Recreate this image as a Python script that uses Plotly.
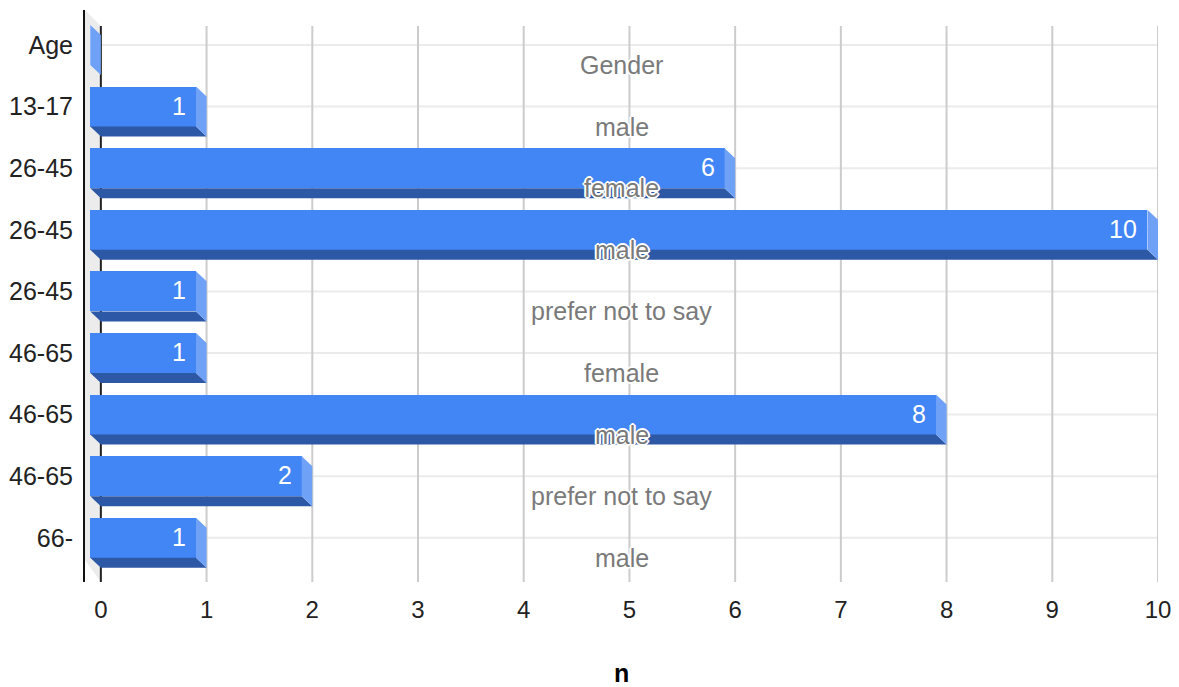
import plotly.graph_objects as go

# ---- data ----
age_labels = ["Age", "13-17", "26-45", "26-45", "26-45", "46-65", "46-65", "46-65", "66-"]
gender_labels = ["Gender", "male", "female", "male", "prefer not to say",
                 "female", "male", "prefer not to say", "male"]
counts = [0, 1, 6, 10, 1, 1, 8, 2, 1]
x_ticks = [0, 1, 2, 3, 4, 5, 6, 7, 8, 9, 10]
x_title = "n"

rows = list(range(len(age_labels)))

# ---- 3D look parameters (data units) ----
DX = 0.1      # horizontal depth
DY = 0.162    # vertical depth (rows)
HALF = 0.325  # half bar height (rows)
Y_TOP, Y_BOT = -0.568, 8.718
X_LEFT = -0.15
WALL_TOP = -0.308

FRONT = "#4285F4"
BOTTOM = "#2D58A6"
SIDE = "#6FA1F7"
FONT = "Liberation Sans, Arial, sans-serif"

fig = go.Figure()

# front faces
fig.add_trace(go.Bar(
    orientation="h", y=rows, x=counts, base=-DX, width=2 * HALF,
    marker=dict(color=FRONT, line=dict(width=0)), hoverinfo="skip",
    showlegend=False,
))

# bottom faces + side faces
bx, by, sx, sy = [], [], [], []
for r, v in zip(rows, counts):
    bx += [-DX, v - DX, v, 0, -DX, None]
    by += [r + HALF, r + HALF, r + HALF + DY, r + HALF + DY, r + HALF, None]
    sx += [v - DX, v, v, v - DX, v - DX, None]
    sy += [r - HALF, r - HALF + DY, r + HALF + DY, r + HALF, r - HALF, None]
fig.add_trace(go.Scatter(x=bx, y=by, mode="lines", fill="toself", fillcolor=BOTTOM,
                         line=dict(width=0, color=BOTTOM), hoverinfo="skip", showlegend=False))
fig.add_trace(go.Scatter(x=sx, y=sy, mode="lines", fill="toself", fillcolor=SIDE,
                         line=dict(width=0, color=SIDE), hoverinfo="skip", showlegend=False))

shapes = []
# left wall
shapes.append(dict(type="path", xref="x", yref="y", layer="below",
                   path=f"M {X_LEFT},{Y_TOP} L 0,{WALL_TOP} L 0,{Y_BOT} L {X_LEFT},8.36 Z",
                   fillcolor="#ECECEC", line=dict(width=0)))
# horizontal grid
for r in rows:
    shapes.append(dict(type="line", xref="x", yref="y", layer="below",
                       x0=0, x1=x_ticks[-1], y0=r, y1=r,
                       line=dict(color="#EBEBEB", width=2)))
# vertical grid
for t in x_ticks[1:]:
    shapes.append(dict(type="line", xref="x", yref="y", layer="below",
                       x0=t, x1=t, y0=WALL_TOP, y1=Y_BOT,
                       line=dict(color="#CCCCCC", width=2)))
# baseline at zero
shapes.append(dict(type="line", xref="x", yref="y", layer="below",
                   x0=0, x1=0, y0=WALL_TOP, y1=Y_BOT,
                   line=dict(color="#222222", width=2)))

annotations = []
# value labels
for r, v in zip(rows, counts):
    if v > 0:
        annotations.append(dict(x=v - DX, y=r, xref="x", yref="y", text=str(v),
                                showarrow=False, xanchor="right", yanchor="middle",
                                xshift=-8, yshift=1,
                                font=dict(family=FONT, size=25, color="white")))
# gender labels
halo = ("-1px 0 0 #fff, 1px 0 0 #fff, 0 -1px 0 #fff, 0 1px 0 #fff, "
        "-1px -1px 0 #fff, 1px 1px 0 #fff, -1px 1px 0 #fff, 1px -1px 0 #fff, "
        "-2px 0 0 #fff, 2px 0 0 #fff, 0 -2px 0 #fff, 0 2px 0 #fff")
for r, g in zip(rows, gender_labels):
    annotations.append(dict(x=0.5, y=r + HALF, xref="paper", yref="y", text=g,
                            showarrow=False, xanchor="center", yanchor="middle",
                            font=dict(family=FONT, size=25, color="#7A7A7A", shadow=halo)))
# x-axis title
annotations.append(dict(x=0.5, y=-0.159, xref="paper", yref="paper", text=x_title,
                        showarrow=False, xanchor="center", yanchor="middle",
                        font=dict(family=FONT, size=25, color="#000000", weight="bold")))

fig.update_layout(
    width=1179, height=687,
    margin=dict(l=85, r=21, t=10, b=105),
    paper_bgcolor="white", plot_bgcolor="white",
    font=dict(family=FONT, size=25, color="#222222"),
    shapes=shapes, annotations=annotations,
    xaxis=dict(range=[X_LEFT, x_ticks[-1]], tickvals=x_ticks, showgrid=False,
               zeroline=False, showline=False, ticks="", ticklabelstandoff=11,
               automargin=False,
               tickfont=dict(size=24, color="#222222")),
    yaxis=dict(range=[Y_BOT, Y_TOP], tickvals=rows, ticktext=age_labels,
               showgrid=False, zeroline=False, showline=True, linecolor="#111111",
               linewidth=2, ticks="", ticklabelstandoff=5, automargin=False,
               tickfont=dict(size=25, color="#222222")),
    bargap=0,
)

fig.write_html("out.html")
